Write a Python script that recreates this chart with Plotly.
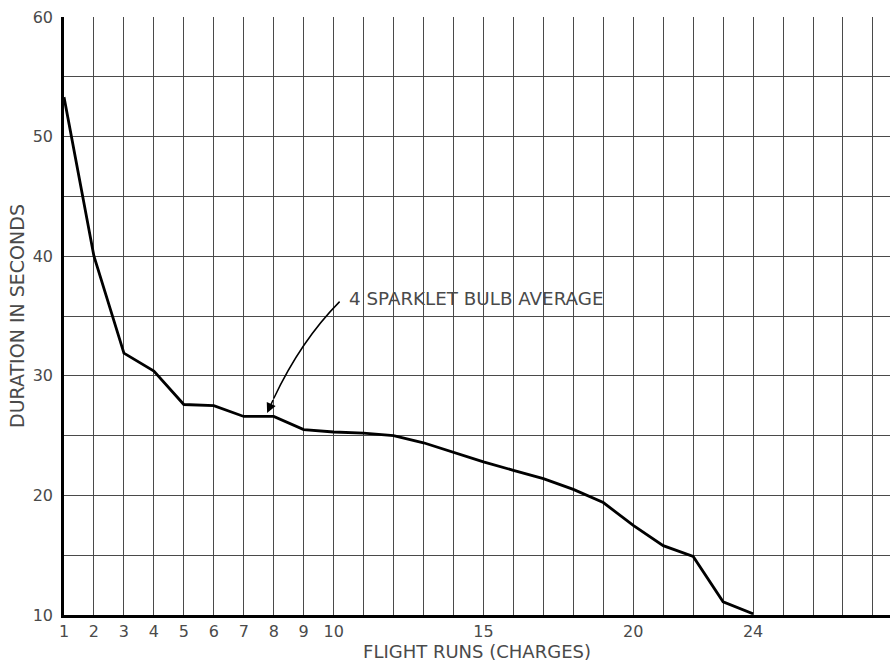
import plotly.graph_objects as go

runs = list(range(1, 25))
duration = [53.3, 40.0, 31.9, 30.4, 27.6, 27.5, 26.6, 26.6, 25.5, 25.3, 25.2, 25.0,
            24.4, 23.6, 22.8, 22.1, 21.4, 20.5, 19.4, 17.5, 15.8, 14.9, 11.1, 10.1]

x_ticks = [1, 2, 3, 4, 5, 6, 7, 8, 9, 10, 15, 20, 24]
y_ticks = [10, 20, 30, 40, 50, 60]
x_grid = list(range(1, 29))
y_grid = [10, 15, 20, 25, 30, 35, 40, 45, 50, 55, 60]

annot_text = "4 SPARKLET BULB AVERAGE"
x_title = "FLIGHT RUNS (CHARGES)"
y_title = "DURATION IN SECONDS"

FONT = "DejaVu Sans"
TXT = "#4a4a4a"
GRID = "#4a4a4a"

fig = go.Figure()
fig.add_trace(go.Scatter(x=runs, y=duration, mode="lines",
                         line=dict(color="black", width=2.8), showlegend=False,
                         hoverinfo="x+y"))

# curved leader line of the annotation
fig.add_shape(type="path", xref="x", yref="y",
              path="M 10.2,36.2 Q 8.9,32.9 8.0,28.1",
              line=dict(color="black", width=1.5))
fig.add_annotation(x=7.78, y=26.9, ax=8.0, ay=28.1, xref="x", yref="y",
                   axref="x", ayref="y", text="", showarrow=True,
                   arrowhead=2, arrowsize=1.3, arrowwidth=1.5, arrowcolor="black")
fig.add_annotation(x=10.45, y=36.5, xref="x", yref="y", text=annot_text,
                   showarrow=False, xanchor="left", yanchor="middle",
                   font=dict(family=FONT, size=18.3, color=TXT))

fig.update_layout(
    width=890, height=667,
    margin=dict(l=64, r=0, t=17, b=52),
    paper_bgcolor="white", plot_bgcolor="white",
    font=dict(family=FONT, color=TXT, size=16),
    xaxis=dict(range=[1, 28.57], tickvals=x_ticks, showgrid=True,
               gridcolor=GRID, gridwidth=1,
               minor=dict(tickvals=x_grid, showgrid=True, gridcolor=GRID, gridwidth=1),
               showline=True, linecolor="black", linewidth=2.5,
               ticks="", ticklabelstandoff=0, zeroline=False, automargin=False,
               title=dict(text=x_title, font=dict(size=18, family=FONT, color=TXT), standoff=4),
               tickfont=dict(size=16, family=FONT, color=TXT)),
    yaxis=dict(range=[10, 60], tickvals=y_ticks, showgrid=True,
               gridcolor=GRID, gridwidth=1,
               minor=dict(tickvals=y_grid, showgrid=True, gridcolor=GRID, gridwidth=1),
               showline=True, linecolor="black", linewidth=2.5,
               ticks="", ticklabelstandoff=5, zeroline=False, automargin=False,
               title=dict(text=y_title, font=dict(size=19, family=FONT, color=TXT), standoff=4),
               tickfont=dict(size=16, family=FONT, color=TXT)),
)

fig.write_html("out.html", config={"displayModeBar": False},
               post_script="document.body.style.margin='0';document.body.style.overflow='hidden';")
